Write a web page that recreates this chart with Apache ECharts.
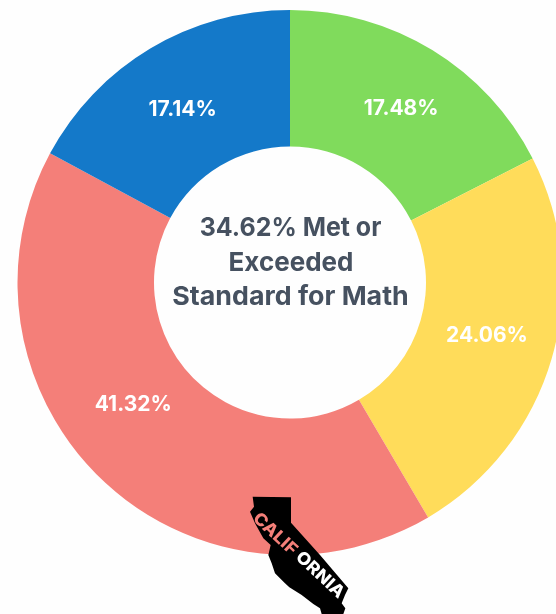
<!DOCTYPE html>
<html><head><meta charset="utf-8">
<style>html,body{margin:0;padding:0;background:#fefefe}#c{width:556px;height:614px}</style>
<script src="https://cdn.jsdelivr.net/npm/echarts@6/dist/echarts.min.js"></script>
</head><body><div id="c"></div>
<script>
var categories = ['Standard Exceeded','Standard Met','Standard Nearly Met','Standard Not Met'];
var values = [17.48, 24.06, 41.32, 17.14];
var colors = ['#80DB5C','#FFDC5A','#F47F79','#1479C9'];
var centerLines = ['34.62% Met or','Exceeded','Standard for Math'];
var labelOffsets = [[3,3],[-2,-5],[-13,-27],[-1,5]];
var FONT = 'Inter, "Open Sans", sans-serif';
var stateOutline = [[68,50],[183,52],[183,128],[270,225],[355,325],[345,345],[335,370],[346,385],[340,402],[275,402],[270,385],[250,372],[215,345],[178,322],[165,310],[135,280],[125,250],[115,225],[122,195],[100,175],[75,130],[60,95],[72,80]];
var chart = echarts.init(document.getElementById('c'), null, {renderer:'canvas'});
function txt(t,x,y,rot,font,fill,lh,sx){
  return {type:'text', silent:true, z:100, x:x, y:y, rotation:rot||0, scaleX:sx||1,
    style:{text:t, textAlign:'center', textVerticalAlign:'middle', align:'center', verticalAlign:'middle', lineHeight:lh, font:font, fill:fill}};
}
chart.setOption({
  animation:false,
  backgroundColor:'#fefefe',
  series:[{
    type:'pie', silent:true, clockwise:true, startAngle:90,
    center:[290,282.5], radius:[136,272.5],
    label:{show:true, position:'inside', color:'#fff', fontFamily:FONT, fontWeight:700, fontSize:21},
    labelLine:{show:false},
    data:categories.map(function(n,i){return {name:n,value:values[i],itemStyle:{color:colors[i]},
      label:{offset:labelOffsets[i],formatter:values[i].toFixed(2)+'%'}};})
  }],
  graphic:[
    txt(centerLines[0],290.5,228,0,'700 26px '+FONT,'#465160',30,0.96),
    txt(centerLines[1],291,263,0,'700 26px '+FONT,'#465160',30,1.0),
    txt(centerLines[2],290.5,297,0,'700 26px '+FONT,'#465160',30,1.03),
    {type:'polygon', silent:true, z:100, shape:{points:stateOutline.map(function(p){return [230+p[0]/3,480+p[1]/3];})}, style:{fill:'#000'}},
    txt('CALIF',275,534,-0.75,'800 17px '+FONT,colors[2],17,1.08),
    txt('ORNIA',320,575,-0.75,'800 17px '+FONT,'#fff',17,1.08)
  ]
});
</script></body></html>
